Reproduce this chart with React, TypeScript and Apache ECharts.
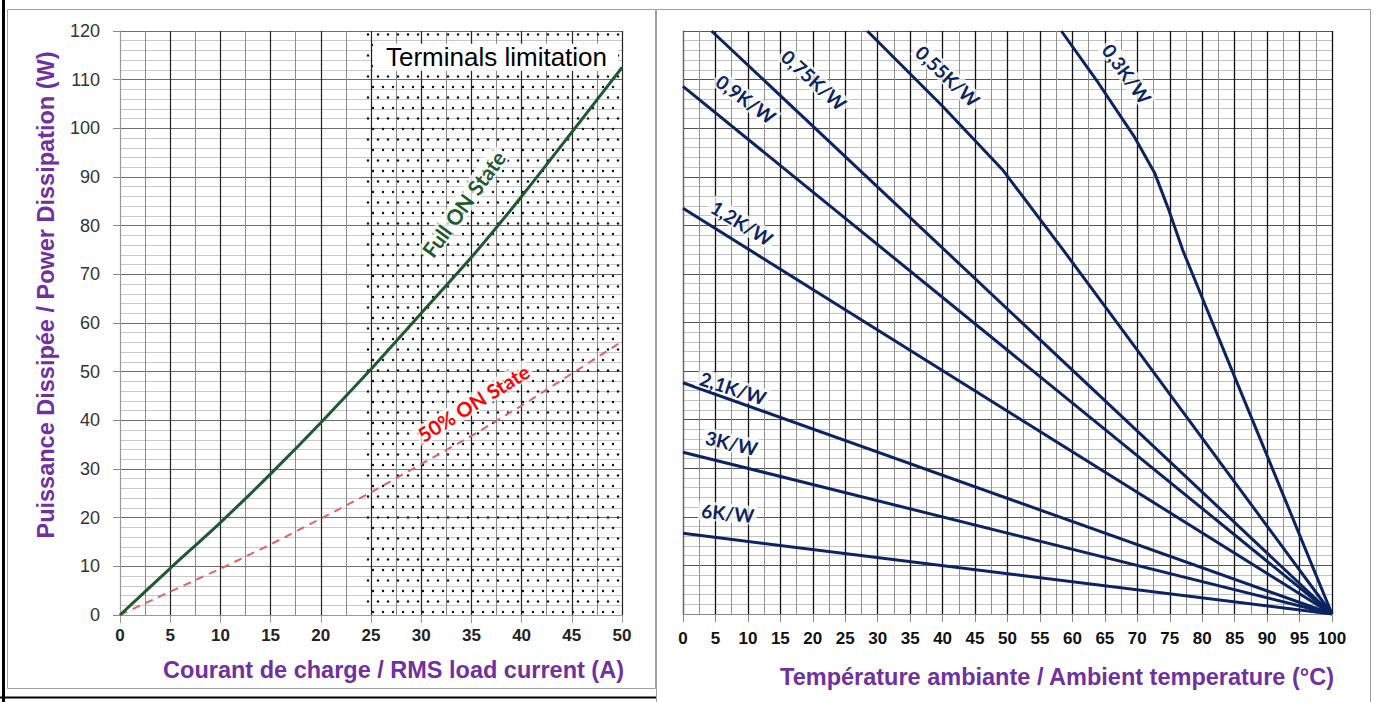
import React, { useEffect, useRef } from "react";
import * as echarts from "echarts";

// ---------- DATA ----------
// Left chart: power dissipation vs RMS load current
const loadCurrentA = [0, 5, 10, 15, 20, 25, 30, 35, 40, 45, 50];
const fullOnStateW = [0, 9.6, 19, 29, 39.5, 50.5, 62, 73.5, 86, 99.2, 112.5];
const halfOnStateW = [0, 4.8, 9.5, 14.5, 19.8, 25.2, 31, 36.8, 43, 49.6, 56.2];
const terminalsLimitA = [24.5, 50];

// Right chart: power vs ambient temperature for several thermal resistances
const curveNames = ["0,3K/W", "0,55K/W", "0,75K/W", "0,9K/W", "1,2K/W", "2,1K/W", "3K/W", "6K/W"];
const temp03 = [58.3, 64, 69.6, 72.7, 74.7, 77, 80, 85, 90, 95, 100];
const power03 = [120, 109.3, 98.1, 90.7, 83.7, 74.9, 65.1, 48.8, 32.6, 16.3, 0];
const temp055 = [28.4, 40, 49.2, 58.6, 70, 80, 90, 100];
const power055 = [120, 104.5, 91.5, 74.9, 54.3, 36.2, 18.1, 0];
const temp075 = [4.4, 100];
const power075 = [120, 0];
const temp09 = [0, 100];
const power09 = [108.6, 0];
const temp12 = [0, 100];
const power12 = [83.5, 0];
const temp21 = [0, 100];
const power21 = [47.6, 0];
const temp3 = [0, 100];
const power3 = [33.3, 0];
const temp6 = [0, 100];
const power6 = [16.6, 0];
const curveTemps = [temp03, temp055, temp075, temp09, temp12, temp21, temp3, temp6];
const curvePowers = [power03, power055, power075, power09, power12, power21, power3, power6];

// ---------- LABEL PLACEMENT (data coordinates + angle) ----------
const curveLabelPos = [
  [68.4, 111.2, -54],
  [40.8, 110.7, -43],
  [20.2, 109.9, -42],
  [9.7, 106, -36],
  [9.1, 80.5, -31],
  [7.7, 46.5, -18],
  [7.5, 35.2, -13],
  [6.9, 20.8, -6],
];

const NAVY = "#0b2461";
const PURPLE = "#7030a0";
const FONT = "'Liberation Sans', Arial, sans-serif";
const LABEL_FONT = "Lato, 'Open Sans', sans-serif";

function makeDots(): HTMLCanvasElement {
  const c = document.createElement("canvas");
  c.width = 20;
  c.height = 21;
  const ctx = c.getContext("2d")!;
  ctx.fillStyle = "#111";
  const pts = [
    [3, 3],
    [13, 3],
    [8, 13.5],
    [18, 13.5],
  ];
  pts.forEach(([x, y]) => {
    ctx.beginPath();
    ctx.arc(x, y, 1.2, 0, Math.PI * 2);
    ctx.fill();
  });
  return c;
}

export default function App() {
  const ref = useRef<HTMLDivElement>(null);

  useEffect(() => {
    document.body.style.margin = "0";
    document.body.style.overflow = "hidden";
    const chart = echarts.init(ref.current!, undefined, { renderer: "svg" });

    const dots = makeDots();

    const leftXSplitColors = ["#999"].concat(new Array(10).fill("#222"));

    const option: any = {
      animation: false,
      backgroundColor: "#fff",
      grid: [
        { left: 120, top: 31, width: 502, height: 584 },
        { left: 683, top: 31, width: 649, height: 583 },
      ],
      xAxis: [
        {
          gridIndex: 0,
          type: "value",
          min: 0,
          max: 50,
          interval: 5,
          axisLine: { show: true, lineStyle: { color: "#999", width: 1 } },
          axisTick: { show: true, length: 8, lineStyle: { color: "#999" } },
          axisLabel: { fontFamily: FONT, fontWeight: "bold", fontSize: 17, color: "#222", margin: 12 },
          splitLine: { show: true, lineStyle: { color: leftXSplitColors, width: 1.2 } },
          minorTick: { show: false, splitNumber: 2 },
          minorSplitLine: { show: true, lineStyle: { color: "#8a8a8a", width: 1 } },
        },
        {
          gridIndex: 1,
          type: "value",
          min: 0,
          max: 100,
          interval: 5,
          axisLine: { show: true, lineStyle: { color: "#888", width: 1 } },
          axisTick: { show: true, length: 8, lineStyle: { color: "#888" } },
          axisLabel: { fontFamily: FONT, fontWeight: "bold", fontSize: 17, color: "#111", margin: 16 },
          splitLine: { show: true, lineStyle: { color: "#111", width: 1.3 } },
          minorTick: { show: false, splitNumber: 2 },
          minorSplitLine: { show: true, lineStyle: { color: "#8f8f8f", width: 1 } },
        },
      ],
      yAxis: [
        {
          gridIndex: 0,
          type: "value",
          min: 0,
          max: 120,
          interval: 10,
          axisLine: { show: true, lineStyle: { color: "#999", width: 1 } },
          axisTick: { show: true, length: 7, lineStyle: { color: "#888" } },
          axisLabel: { fontFamily: FONT, fontSize: 18, color: "#333", margin: 20 },
          splitLine: { show: true, lineStyle: { color: "#6f6f6f", width: 1.2 } },
          minorTick: { show: false, splitNumber: 5 },
          minorSplitLine: { show: true, lineStyle: { color: "#c9c9c9", width: 1 } },
        },
        {
          gridIndex: 1,
          type: "value",
          min: 0,
          max: 120,
          interval: 10,
          axisLine: { show: true, lineStyle: { color: "#666", width: 1 } },
          axisTick: { show: false },
          axisLabel: { show: false },
          splitLine: { show: true, lineStyle: { color: "#555", width: 1.2 } },
          minorTick: { show: false, splitNumber: 5 },
          minorSplitLine: { show: true, lineStyle: { color: "#c2c2c2", width: 1 } },
        },
      ],
      series: [
        {
          name: "Terminals limitation",
          type: "line",
          xAxisIndex: 0,
          yAxisIndex: 0,
          data: [],
          silent: true,
          markArea: {
            silent: true,
            itemStyle: {
              color: { image: dots, repeat: "repeat", imageWidth: 20, imageHeight: 21 },
            },
            data: [[{ xAxis: terminalsLimitA[0], yAxis: 0 }, { xAxis: terminalsLimitA[1], yAxis: 120 }]],
          },
        },
        {
          name: "50% ON State",
          type: "line",
          xAxisIndex: 0,
          yAxisIndex: 0,
          symbol: "none",
          data: loadCurrentA.map((a, i) => [a, halfOnStateW[i]]),
          lineStyle: { color: "#e06464", width: 2, type: [8, 6] },
          z: 3,
        },
        {
          name: "Full ON State",
          type: "line",
          xAxisIndex: 0,
          yAxisIndex: 0,
          symbol: "none",
          smooth: 0.2,
          data: loadCurrentA.map((a, i) => [a, fullOnStateW[i]]),
          lineStyle: { color: "#1f5a2e", width: 3 },
          z: 4,
        },
        ...curveNames.map((name, k) => ({
          name,
          type: "line",
          xAxisIndex: 1,
          yAxisIndex: 1,
          symbol: "none",
          data: curveTemps[k].map((t, i) => [t, curvePowers[k][i]]),
          lineStyle: { color: NAVY, width: 3 },
          z: 4,
        })),
      ],
    };

    chart.setOption(option);

    const px = (g: number, x: number, y: number) =>
      chart.convertToPixel({ gridIndex: g } as any, [x, y]) as number[];

    const labelText = (
      text: string,
      p: number[],
      deg: number,
      color: string,
      size: number,
      bg = "rgba(255,255,255,0.75)"
    ) => ({
      type: "text",
      x: p[0],
      y: p[1],
      rotation: (deg * Math.PI) / 180,
      z: 20,
      style: {
        text,
        fill: color,
        font: `bold ${size}px ${LABEL_FONT}`,
        align: "center",
        verticalAlign: "middle",
        backgroundColor: bg,
        padding: [0, 3],
      },
    });

    const graphics: any[] = [
      // panel frames
      { type: "rect", shape: { x: 7.5, y: 9.5, width: 648, height: 679 }, style: { fill: "none", stroke: "#a0a0a0", lineWidth: 1 }, z: 1 },
      { type: "rect", shape: { x: 656.5, y: 9.5, width: 714, height: 720 }, style: { fill: "none", stroke: "#a0a0a0", lineWidth: 1 }, z: 1 },
      { type: "line", shape: { x1: 3.5, y1: 0, x2: 3.5, y2: 702 }, style: { stroke: "#000", lineWidth: 3 }, z: 1 },
      { type: "line", shape: { x1: 0, y1: 697.5, x2: 656, y2: 697.5 }, style: { stroke: "#000", lineWidth: 2 }, z: 1 },
      // axis titles
      {
        type: "text",
        x: 624,
        y: 670,
        z: 5,
        style: { text: "Courant de charge / RMS load current (A)", fill: PURPLE, font: `bold 23.5px ${FONT}`, align: "right", verticalAlign: "middle" },
      },
      {
        type: "text",
        x: 1334,
        y: 677,
        z: 5,
        style: { text: "Température ambiante / Ambient temperature (°C)", fill: PURPLE, font: `bold 23.5px ${FONT}`, align: "right", verticalAlign: "middle" },
      },
      {
        type: "text",
        x: 46,
        y: 295,
        rotation: Math.PI / 2,
        z: 5,
        style: { text: "Puissance Dissipée / Power Dissipation (W)", fill: PURPLE, font: `bold 23.5px ${FONT}`, align: "center", verticalAlign: "middle" },
      },
      // left chart annotations
      {
        type: "text",
        x: px(0, 37.4, 114.6)[0],
        y: px(0, 37.4, 114.6)[1],
        z: 20,
        style: {
          text: "Terminals limitation",
          fill: "#000",
          font: `26px ${FONT}`,
          align: "center",
          verticalAlign: "middle",
          backgroundColor: "#fff",
          padding: [1, 11, 0, 13],
        },
      },
      labelText("Full ON State", px(0, 34.2, 84.5), 54, "#1f5a2e", 21),
      labelText("50% ON State", px(0, 35.2, 43.6), 32, "#ff0000", 20),
      // right chart curve labels
      ...curveNames.map((name, k) =>
        labelText(name, px(1, curveLabelPos[k][0], curveLabelPos[k][1]), curveLabelPos[k][2], NAVY, 19)
      ),
    ];

    chart.setOption({ graphic: graphics });

    return () => chart.dispose();
  }, []);

  return (
    <div
      ref={ref}
      style={{ position: "absolute", left: 0, top: 0, width: 1379, height: 702 }}
    />
  );
}
